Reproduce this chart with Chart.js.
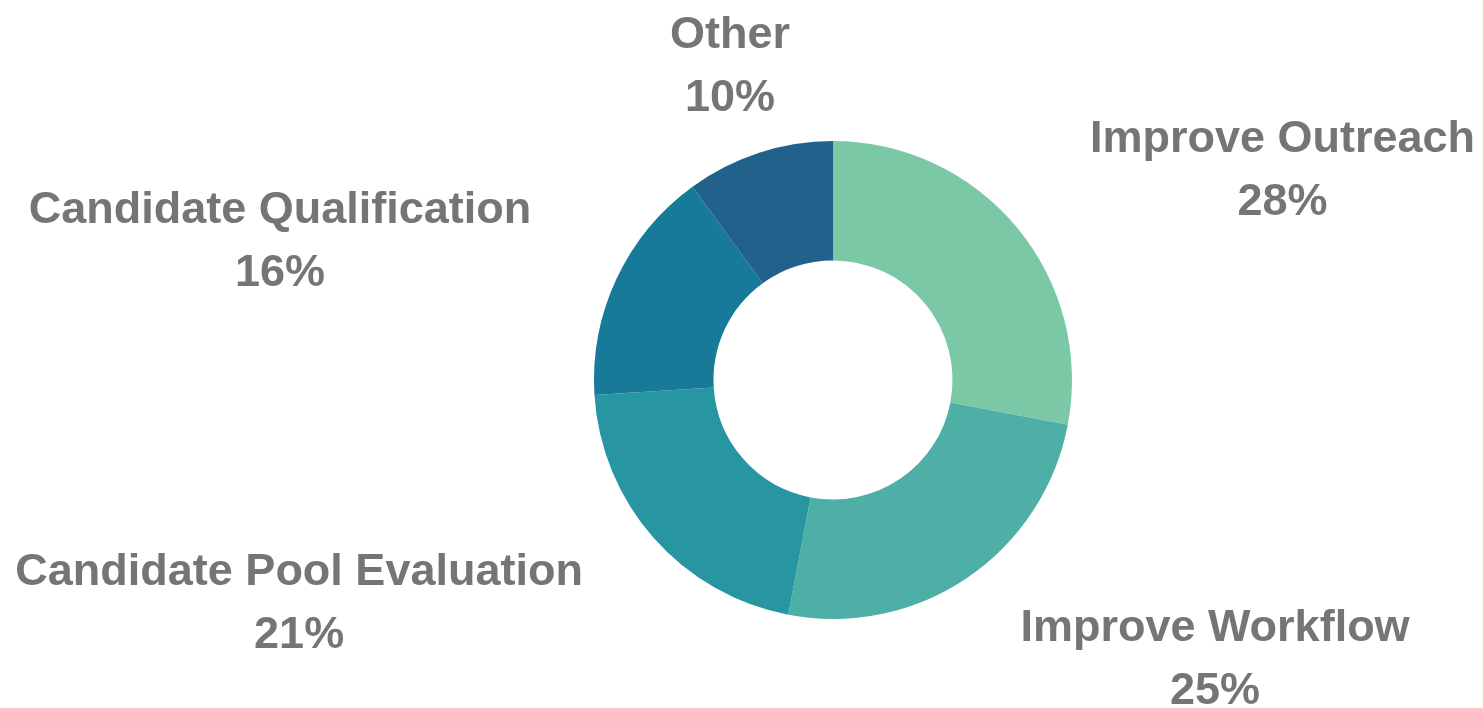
<!DOCTYPE html>
<html>
<head>
<meta charset="utf-8">
<script src="https://cdn.jsdelivr.net/npm/chart.js@4"></script>
<style>
  body { margin: 0; background: #fff; }
  #wrap { width: 1483px; height: 708px; position: relative; }
</style>
</head>
<body>
<div id="wrap"><canvas id="donut"></canvas></div>
<script>
// Data
const categories = ['Improve Outreach', 'Improve Workflow', 'Candidate Pool Evaluation', 'Candidate Qualification', 'Other'];
const shares = [28, 25, 21, 16, 10];
const sliceColors = ['#7bc8a6', '#4eafa7', '#2896a2', '#177a99', '#22618c'];

// outside labels: name on one line, percent below
const outsideLabels = {
    id: 'outsideLabels',
    afterDatasetsDraw(chart) {
        const ctx = chart.ctx;
        const arcs = chart.getDatasetMeta(0).data;
        ctx.save();
        ctx.font = 'bold 45px "Liberation Sans", Arial, sans-serif';
        ctx.fillStyle = '#757575';
        ctx.textBaseline = 'middle';
        arcs.forEach((arc, i) => {
            const mid = (arc.startAngle + arc.endAngle) / 2;
            const r = arc.outerRadius * 1.395;
            const x = arc.x + Math.cos(mid) * r;
            const y = arc.y + Math.sin(mid) * r + 4;
            const c = Math.cos(mid);
            ctx.textAlign = Math.abs(c) < 0.4 ? 'center' : (c > 0 ? 'left' : 'right');
            const lines = [categories[i], shares[i] + '%'];
            // the percent line is centred under the name
            const w = ctx.measureText(lines[0]).width;
            let px = x;
            if (ctx.textAlign === 'left') px = x + w / 2;
            if (ctx.textAlign === 'right') px = x - w / 2;
            ctx.fillText(lines[0], x, y - 31.5);
            ctx.textAlign = 'center';
            ctx.fillText(lines[1], px, y + 31.5);
        });
        ctx.restore();
    }
};

new Chart(document.getElementById('donut'), {
    type: 'doughnut',
    data: {
        labels: categories,
        datasets: [{
            data: shares,
            backgroundColor: sliceColors,
            borderWidth: 0
        }]
    },
    options: {
        responsive: true,
        maintainAspectRatio: false,
        animation: false,
        cutout: '50%',
        layout: { padding: { top: 141, bottom: 89, left: 183, right: 0 } },
        plugins: {
            legend: { display: false },
            tooltip: { enabled: false }
        }
    },
    plugins: [outsideLabels]
});
</script>
</body>
</html>
